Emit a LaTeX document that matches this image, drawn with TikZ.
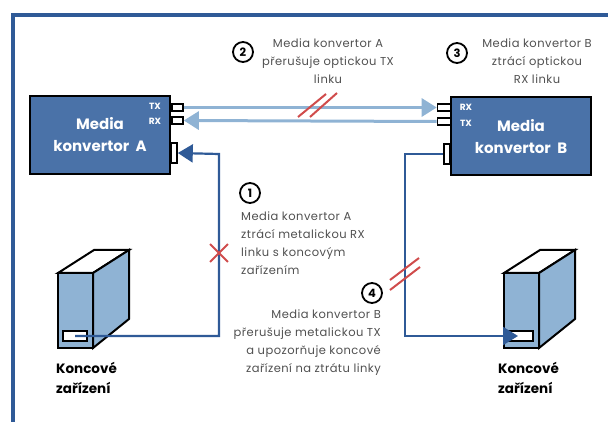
\documentclass[tikz,border=0pt]{standalone}
\usepackage{fontspec}
\setmainfont{Poppins}
\usepackage{tikz}
\usetikzlibrary{arrows.meta,positioning,shapes.misc,calc}
\definecolor{boxblue}{RGB}{74,114,168}
\definecolor{optblue}{RGB}{143,179,212}
\definecolor{metblue}{RGB}{47,90,151}
\definecolor{cutred}{RGB}{208,76,76}
\definecolor{txtgray}{RGB}{80,80,80}

\begin{document}
\begin{tikzpicture}[x=1pt,y=-1pt,
    conv/.style={draw=black,line width=2pt,fill=boxblue,text=white,
      minimum width=140pt,minimum height=78pt,align=center,
      font=\fontsize{15}{22}\selectfont\bfseries},
    port/.style={draw=black,line width=1.6pt,fill=white,inner sep=0pt,
      minimum width=11pt,minimum height=7pt},
    mport/.style={port,minimum width=6pt,minimum height=20pt},
    plabel/.style={text=white,font=\fontsize{9}{9}\selectfont\bfseries,inner sep=0pt},
    opt/.style={optblue,line width=3pt},
    metal/.style={metblue,line width=2.2pt},
    tip/.style={-{Triangle[length=15pt,width=18pt]}},
    num/.style={circle,draw=black,line width=1.8pt,minimum size=20pt,inner sep=0pt,
      font=\fontsize{11.5}{11.5}\selectfont\bfseries},
    desc/.style={text=txtgray,font=\fontsize{11.5}{18}\selectfont\addfontfeatures{LetterSpace=4},inner sep=0pt},
    dev/.style={font=\fontsize{13.5}{20}\selectfont\bfseries,align=left,inner sep=0pt,anchor=west},
    slot/.style={draw=black,line width=1.6pt,fill=white,inner sep=0pt,
      minimum width=24pt,minimum height=10pt},
    cut/.style={cutred,line width=2pt}]
  \useasboundingbox (0,0) rectangle (608,422);

  % ramecek
  \draw[metblue,line width=4pt] (13,424) -- (13,15) -- (610,15);

  % konvertory
  \node[conv] (A) at (100,135) {Media\\konvertor~~A};
  \node[conv] (B) at (521,136.5) {Media\\konvertor~~B};

  \node[port]  (txA) at (177.5,107.5) {};
  \node[port]  (rxA) at (177.5,120.5) {};
  \node[mport] (mA)  at (174,153) {};
  \node[plabel] (ltxA) at (155,106) {TX};
  \node[plabel] (lrxA) at (155,121) {RX};

  \node[port,minimum width=13pt] (rxB) at (444,107.5) {};
  \node[port,minimum width=13pt] (txB) at (444,121.5) {};
  \node[mport] (mB)  at (447,154) {};
  \node[plabel] (lrxB) at (466,107) {RX};
  \node[plabel] (ltxB) at (466,123) {TX};

  % opticke linky
  \draw[opt,tip] (txA.east) -- (rxB.west);
  \draw[opt,tip] (txB.west) -- (rxA.east);
  \draw[cut] (298,117) -- (326,94);
  \draw[cut] (310,117) -- (337,93);

  % koncova zarizeni
  \foreach \x/\n in {58/L,504/R} {
    \draw[line width=2pt,fill=white] (\x,273) -- (\x+36,250) -- (\x+71,250) -- (\x+35,273) -- cycle;
    \draw[line width=2pt,fill=optblue] (\x+35,273) -- (\x+71,250) -- (\x+71,319) -- (\x+35,348) -- cycle;
    \draw[line width=2pt,fill=optblue] (\x,273) rectangle (\x+35,348);
    \node[slot] (slot\n) at (\x+17,336) {};
  }
  \node[dev] (devL) at (56,378) {Koncové\\zařízení};
  \node[dev] (devR) at (498,378) {Koncové\\zařízení};

  % metalicke linky
  \coordinate (cA) at (219,154);
  \coordinate (cB) at (405,154);
  \draw[metal,tip] (slotL.center) -| (cA) -- (mA.east);
  \draw[metal,tip,shorten >=3pt] (mB.west) -- (cB) |- (slotR.center);
  \node[draw=cutred,line width=1.8pt,cross out,minimum size=16pt,inner sep=0pt] (xA) at (219,253) {};
  \draw[cut] (390,280) -- (419,258);
  \draw[cut] (390,290) -- (420,267);

  % popisy
  \node[num] (n2) at (243,52) {2};
  \node[desc,align=center] (t2) at (328,61) {Media konvertor A\\přerušuje optickou TX\\linku};
  \node[num] (n3) at (457,53) {3};
  \node[desc,align=center] (t3) at (537,61) {Media konvertor B\\ztrácí optickou\\RX linku};
  \node[num] (n1) at (250,193) {1};
  \node[desc,align=left,anchor=north west] (t1) at (241,212) {Media konvertor A\\ztrácí metalickou RX\\linku s koncovým\\zařízením};
  \node[num] (n4) at (372,293) {4};
  \node[desc,align=right,anchor=north east] (t4) at (381,310) {Media konvertor B\\přerušuje metalickou TX\\a upozorňuje koncové\\zařízení na ztrátu linky};
\end{tikzpicture}
\end{document}
